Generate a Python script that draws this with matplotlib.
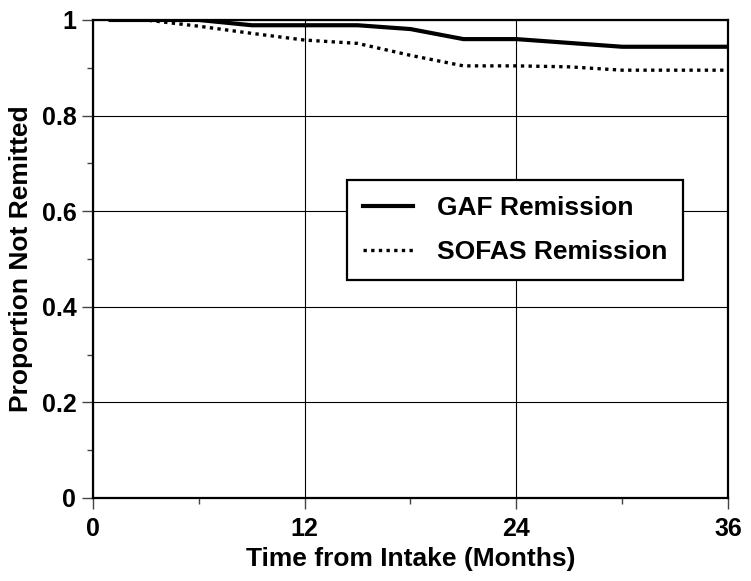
import matplotlib
matplotlib.use('Agg')
from matplotlib import pyplot as plt
from matplotlib.ticker import MultipleLocator

months = [1, 3, 6, 9, 12, 15, 18, 21, 24, 27, 30, 33, 36]
gaf = [1.0, 1.0, 1.0, 0.989, 0.989, 0.989, 0.981, 0.960, 0.960, 0.952, 0.944, 0.944, 0.944]
sofas = [1.0, 1.0, 0.987, 0.972, 0.958, 0.951, 0.926, 0.904, 0.904, 0.902, 0.895, 0.895, 0.895]

plt.rcParams['font.family'] = ['Liberation Sans', 'DejaVu Sans']
plt.rcParams['font.weight'] = 'bold'

fig = plt.figure(figsize=(7.51, 5.81), dpi=100)
ax = fig.add_axes([0.1238, 0.1429, 0.8456, 0.8227])

ax.plot(months, gaf, color='black', lw=3.0, solid_joinstyle='miter',
        label='GAF Remission', zorder=3)
ax.plot(months, sofas, color='black', lw=2.4, linestyle=(0, (1.0, 1.3)),
        dash_capstyle='butt', label='SOFAS Remission', zorder=3)

ax.set_xlim(0, 36)
ax.set_ylim(0, 1)
ax.xaxis.set_major_locator(MultipleLocator(12))
ax.xaxis.set_minor_locator(MultipleLocator(6))
ax.yaxis.set_major_locator(MultipleLocator(0.2))
ax.yaxis.set_minor_locator(MultipleLocator(0.1))
ax.set_yticks([0, 0.2, 0.4, 0.6, 0.8, 1.0])
ax.set_yticklabels(['0', '0.2', '0.4', '0.6', '0.8', '1'])

ax.grid(True, which='major', color='black', lw=0.8)
ax.tick_params(which='major', direction='out', length=8, width=1, color='#444444',
               labelsize=18, pad=4)
ax.tick_params(axis='x', which='major', pad=6)
ax.tick_params(which='minor', direction='out', length=4, width=1, color='#444444')
for s in ax.spines.values():
    s.set_linewidth(1.6)

ax.set_xlabel('Time from Intake (Months)', fontsize=19, fontweight='bold', labelpad=4)
ax.set_ylabel('Proportion Not Remitted', fontsize=19, fontweight='bold', labelpad=6)

leg = ax.legend(loc='upper left', bbox_to_anchor=(0.4, 0.665), fontsize=19,
                frameon=True, fancybox=False, edgecolor='black', framealpha=1,
                handlelength=1.9, handletextpad=0.9, borderpad=0.6, labelspacing=0.75,
                borderaxespad=0)
leg.get_frame().set_linewidth(1.6)

fig.savefig('out.png', dpi=100)
